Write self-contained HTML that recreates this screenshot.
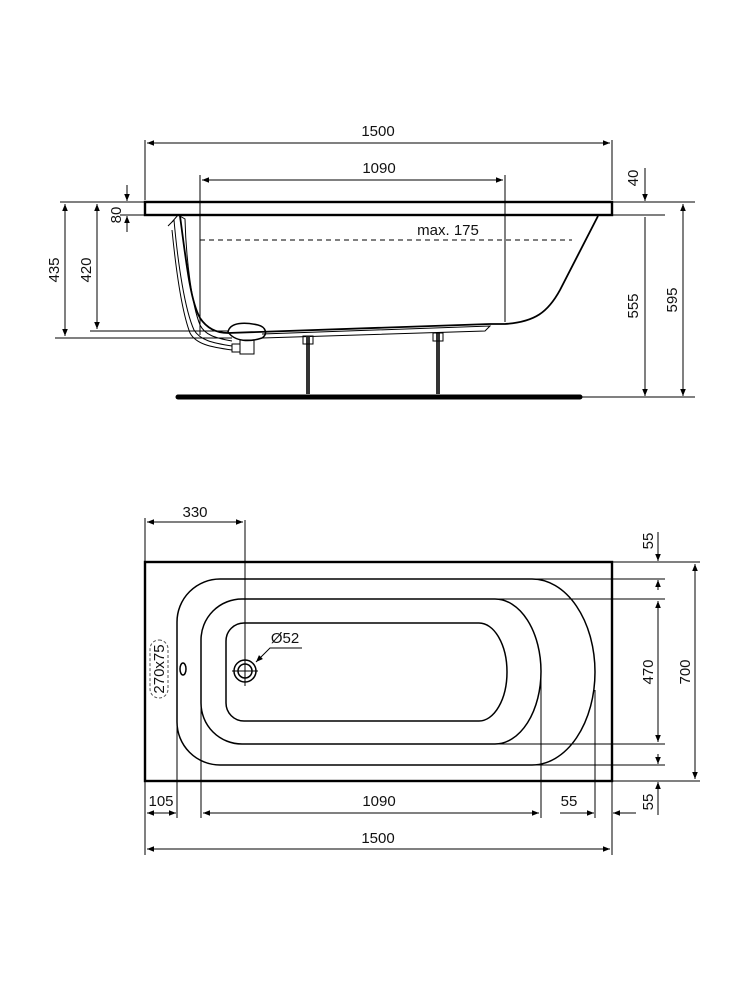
<!DOCTYPE html>
<html><head><style>
html,body{margin:0;padding:0;background:#fff;}
svg{display:block;}
text{font-family:"Liberation Sans",Arial,sans-serif;font-size:15px;fill:#111;}
</style></head><body>
<svg width="750" height="982" viewBox="0 0 750 982" xmlns="http://www.w3.org/2000/svg">
<defs>
<marker id="a" viewBox="0 0 10 10" refX="10" refY="5" markerWidth="9" markerHeight="7" orient="auto-start-reverse" markerUnits="userSpaceOnUse"><path d="M0,1 L10,5 L0,9 Z" fill="#000"/></marker>
</defs>
<g stroke="#000" fill="none" stroke-width="1">
<!-- SIDE VIEW -->
<rect x="145" y="202" width="467" height="13" stroke-width="2.4"/>
<path d="M180,216 C186,260 190,300 200,318 C208,330 218,333 228,333 L490,324" stroke-width="1.8"/>
<path d="M598,216 L560,290 C548,312 535,322 505,324 L490,324" stroke-width="1.8"/>
<path d="M262,334 L490,326 L485,331 L262,338" stroke-width="1"/>
<line x1="200" y1="240" x2="572" y2="240" stroke-dasharray="5,4"/>
<path d="M172,222 L178,215 L185,219 C186,260 192,305 200,325 C205,335 215,338 232,341" />
<path d="M168,226 L174,220 C178,265 185,310 194,330 C200,340 212,343 232,346" />
<path d="M172,230 C176,270 182,312 190,333 C196,344 210,347 232,350" />
<path d="M228,332 C230,322 245,322 258,325 C266,327 268,334 262,338 C250,342 235,342 228,332 Z" stroke-width="1.5"/>
<rect x="240" y="340" width="14" height="14"/>
<rect x="232" y="344" width="8" height="8"/>
<line x1="308" y1="336" x2="308" y2="394" stroke-width="4" stroke="#333"/>
<line x1="438" y1="333" x2="438" y2="394" stroke-width="4" stroke="#333"/>
<rect x="303" y="336" width="10" height="8"/><rect x="433" y="333" width="10" height="8"/>
<line x1="178" y1="397" x2="580" y2="397" stroke-width="5" stroke-linecap="round"/>
<line x1="145" y1="140" x2="145" y2="200"/><line x1="612" y1="140" x2="612" y2="200"/>
<line x1="147" y1="143" x2="610" y2="143" marker-start="url(#a)" marker-end="url(#a)"/>
<line x1="200" y1="175" x2="200" y2="335"/><line x1="505" y1="175" x2="505" y2="322"/>
<line x1="202" y1="180" x2="503" y2="180" marker-start="url(#a)" marker-end="url(#a)"/>
<line x1="612" y1="202" x2="695" y2="202"/><line x1="612" y1="215" x2="665" y2="215"/>
<line x1="580" y1="397" x2="695" y2="397"/>
<line x1="645" y1="168" x2="645" y2="201" marker-end="url(#a)"/>
<line x1="645" y1="217" x2="645" y2="396" marker-end="url(#a)"/>
<line x1="683" y1="204" x2="683" y2="396" marker-start="url(#a)" marker-end="url(#a)"/>
<line x1="60" y1="202" x2="145" y2="202"/>
<line x1="55" y1="338" x2="232" y2="338"/>
<line x1="90" y1="331" x2="228" y2="331"/>
<line x1="65" y1="204" x2="65" y2="336" marker-start="url(#a)" marker-end="url(#a)"/>
<line x1="97" y1="204" x2="97" y2="329" marker-start="url(#a)" marker-end="url(#a)"/>
<line x1="120" y1="215" x2="185" y2="215"/>
<line x1="127" y1="185" x2="127" y2="201" marker-end="url(#a)"/>
<line x1="127" y1="232" x2="127" y2="216" marker-end="url(#a)"/>

<!-- PLAN VIEW -->
<rect x="145" y="562" width="467" height="219" stroke-width="2.4"/>
<path d="M220,579 L532,579 A63,93 0 0 1 532,765 L220,765 A43,43 0 0 1 177,722 L177,622 A43,43 0 0 1 220,579 Z" stroke-width="1.5"/>
<path d="M242,599 L495,599 A46,72.5 0 0 1 495,744 L242,744 A41,41 0 0 1 201,703 L201,640 A41,41 0 0 1 242,599 Z" stroke-width="1.5"/>
<path d="M244,623 L479,623 A28,49 0 0 1 479,721 L244,721 A18,18 0 0 1 226,703 L226,641 A18,18 0 0 1 244,623 Z" stroke-width="1.5"/>
<circle cx="245" cy="671" r="11" stroke-width="1.5"/><circle cx="245" cy="671" r="7" stroke-width="1.5"/>
<line x1="232" y1="671" x2="258" y2="671"/>
<line x1="245" y1="520" x2="245" y2="686"/>
<path d="M302,648 L270,648 L256,662" marker-end="url(#a)"/>
<ellipse cx="183" cy="669" rx="3" ry="6" stroke-width="1.5"/>
<rect x="150" y="640" width="18" height="58" rx="9" stroke-dasharray="3,2" stroke="#555"/>
<line x1="612" y1="562" x2="700" y2="562"/><line x1="612" y1="781" x2="700" y2="781"/>
<line x1="532" y1="579" x2="665" y2="579"/><line x1="495" y1="599" x2="665" y2="599"/>
<line x1="495" y1="744" x2="665" y2="744"/><line x1="532" y1="765" x2="665" y2="765"/>
<line x1="658" y1="532" x2="658" y2="561" marker-end="url(#a)"/>
<line x1="658" y1="590" x2="658" y2="580" marker-end="url(#a)"/>
<line x1="658" y1="601" x2="658" y2="742" marker-start="url(#a)" marker-end="url(#a)"/>
<line x1="658" y1="754" x2="658" y2="764" marker-end="url(#a)"/>
<line x1="658" y1="815" x2="658" y2="782" marker-end="url(#a)"/>
<line x1="695" y1="564" x2="695" y2="779" marker-start="url(#a)" marker-end="url(#a)"/>
<line x1="145" y1="518" x2="145" y2="561"/>
<line x1="147" y1="522" x2="243" y2="522" marker-start="url(#a)" marker-end="url(#a)"/>
<line x1="145" y1="781" x2="145" y2="855"/><line x1="612" y1="781" x2="612" y2="855"/>
<line x1="177" y1="722" x2="177" y2="818"/><line x1="201" y1="703" x2="201" y2="818"/>
<line x1="541" y1="672" x2="541" y2="818"/><line x1="595" y1="690" x2="595" y2="818"/>
<line x1="147" y1="813" x2="176" y2="813" marker-start="url(#a)" marker-end="url(#a)"/>
<line x1="203" y1="813" x2="539" y2="813" marker-start="url(#a)" marker-end="url(#a)"/>
<line x1="560" y1="813" x2="594" y2="813" marker-end="url(#a)"/>
<line x1="636" y1="813" x2="613" y2="813" marker-end="url(#a)"/>
<line x1="147" y1="849" x2="610" y2="849" marker-start="url(#a)" marker-end="url(#a)"/>
</g>
<g>
<text x="378" y="136" text-anchor="middle">1500</text>
<text x="379" y="173" text-anchor="middle">1090</text>
<text x="448" y="235" text-anchor="middle">max. 175</text>
<text transform="translate(638,178) rotate(-90)" text-anchor="middle">40</text>
<text transform="translate(638,306) rotate(-90)" text-anchor="middle">555</text>
<text transform="translate(677,300) rotate(-90)" text-anchor="middle">595</text>
<text transform="translate(59,270) rotate(-90)" text-anchor="middle">435</text>
<text transform="translate(91,270) rotate(-90)" text-anchor="middle">420</text>
<text transform="translate(121,215) rotate(-90)" text-anchor="middle">80</text>
<text x="195" y="517" text-anchor="middle">330</text>
<text x="285" y="643" text-anchor="middle">Ø52</text>
<text transform="translate(164,669) rotate(-90)" text-anchor="middle">270x75</text>
<text transform="translate(653,541) rotate(-90)" text-anchor="middle">55</text>
<text transform="translate(653,672) rotate(-90)" text-anchor="middle">470</text>
<text transform="translate(690,672) rotate(-90)" text-anchor="middle">700</text>
<text transform="translate(653,802) rotate(-90)" text-anchor="middle">55</text>
<text x="161" y="806" text-anchor="middle">105</text>
<text x="379" y="806" text-anchor="middle">1090</text>
<text x="569" y="806" text-anchor="middle">55</text>
<text x="378" y="843" text-anchor="middle">1500</text>
</g>
</svg>
</body></html>
